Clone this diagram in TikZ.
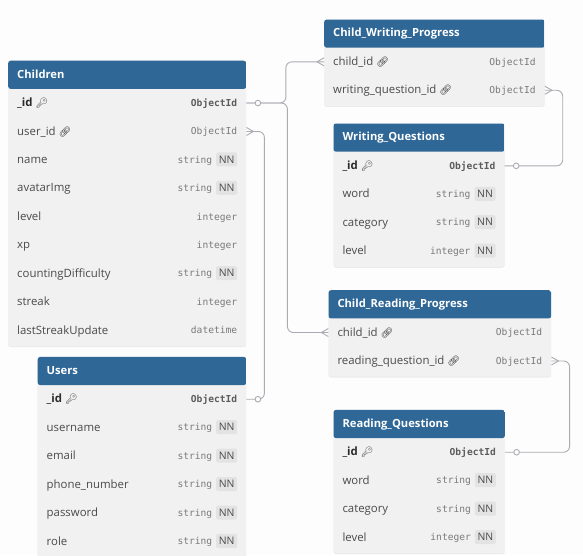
\documentclass[tikz,border=0pt]{standalone}
\usepackage{xcolor}
\usepackage{fontspec}
\setmainfont{Open Sans}
\setmonofont{DejaVu Sans Mono}
\newfontfamily\iconfont{Noto Emoji}
\usetikzlibrary{positioning, arrows.meta, calc, shadows}
\definecolor{pagebg}{HTML}{FDFDFD}
\definecolor{headblue}{HTML}{2F6796}
\definecolor{bodygrey}{HTML}{F1F1F1}
\definecolor{fieldtext}{HTML}{4A4A4A}
\definecolor{typetext}{HTML}{7A7A7A}
\definecolor{keytext}{HTML}{2B2B2B}
\definecolor{keytype}{HTML}{5C5C5C}
\definecolor{badgegrey}{HTML}{E3E3E3}
\definecolor{relgrey}{HTML}{ABABB3}

\tikzset{
  tablebox/.style={rounded corners=2.5pt, fill=bodygrey, inner sep=0pt, anchor=north west,
    drop shadow={shadow xshift=0pt, shadow yshift=-1pt, opacity=.07, fill=black},
    path picture={\fill[headblue] (path picture bounding box.north west) rectangle
      ([yshift=-28.2pt]path picture bounding box.north east);}},
  tabletitle/.style={text=white, inner sep=0pt, anchor=base west, font=\fontsize{11.2}{12}\selectfont\bfseries},
  fieldrow/.style={inner sep=0pt, minimum height=28.45pt},
  fieldname/.style={text=fieldtext, inner sep=0pt, anchor=base west, font=\fontsize{11.4}{12}\selectfont},
  fieldtype/.style={text=typetext, inner sep=0pt, anchor=base east, font=\fontsize{9.6}{12}\selectfont\ttfamily},
  nnbadge/.style={fill=badgegrey, text=fieldtext, rounded corners=1.5pt, inner sep=0pt, minimum width=21pt, minimum height=14pt,
    font=\fontsize{10.4}{12}\selectfont\rmfamily},
  relline/.style={draw=relgrey, line width=.9pt},
  relbend/.style={relline, rounded corners=6pt},
  onemark/.style={circle, draw=relgrey, fill=pagebg, line width=.9pt, inner sep=0pt, minimum size=5.6pt},
}

\newcommand{\keyicon}{{\iconfont\fontsize{10}{10}\selectfont\color{fieldtext}🔑}}
\newcommand{\linkicon}{{\iconfont\fontsize{10}{10}\selectfont\bfseries\color{keytext}🔗}}
\newcommand{\nn}{\hspace{4pt}\tikz[baseline=(badge.base)]\node[nnbadge] (badge) {NN};}
\newcommand{\pk}[1]{\textcolor{keytext}{\textbf{#1}}}
\newcommand{\pktype}[1]{\textcolor{keytype}{\textbf{#1}}}

% id, title, left, top, width, rows, row list
\newcommand{\erdtable}[7]{
  \node[tablebox, minimum width=#5pt, minimum height=28.45pt*(#6+1)+1pt] (#1) at (#3,#4) {};
  \node[tabletitle] (#1-title) at ([xshift=9pt,yshift=-17.5pt]#1.north west) {#2};
  \foreach \fname/\ftype [count=\i] in {#7} {
    \node[fieldrow, minimum width=#5pt] (#1-\i) at ([yshift=-28.3pt-(\i-.5)*28.45pt]#1.north) {};
    \node[fieldname] (#1-\i-name) at ([xshift=9pt,yshift=-3.6pt]#1-\i.west) {\fname};
    \node[fieldtype] (#1-\i-type) at ([xshift=-9pt,yshift=-3.2pt]#1-\i.east) {\ftype};
  }
}
% fan of a many side, opening towards the table
\newcommand{\crowright}[1]{\draw[relline] ([yshift=4pt]#1.east) -- ++(7,4) -- ++(-7,4);}
\newcommand{\crowleft}[1]{\draw[relline] ([yshift=4pt]#1.west) -- ++(-7,4) -- ++(7,4);}

\begin{document}
\begin{tikzpicture}[x=1pt, y=-1pt]
  \useasboundingbox (0,0) rectangle (583,555);
  \fill[pagebg] (0,0) rectangle (583,555);

  \erdtable{children}{Children}{8}{60.5}{238}{9}{
    {\pk{\_id} \keyicon}/\pktype{ObjectId},
    {user\_id \linkicon}/ObjectId,
    name/{string\nn},
    avatarImg/{string\nn},
    level/integer,
    xp/integer,
    countingDifficulty/{string\nn},
    streak/integer,
    lastStreakUpdate/datetime}

  \erdtable{users}{Users}{37.5}{356.7}{208.5}{6}{
    {\pk{\_id} \keyicon}/\pktype{ObjectId},
    username/{string\nn},
    email/{string\nn},
    phone\_number/{string\nn},
    password/{string\nn},
    role/{string\nn}}

  \erdtable{writeprog}{Child\_Writing\_Progress}{324}{19.3}{220.5}{2}{
    {child\_id \linkicon}/ObjectId,
    {writing\_question\_id \linkicon}/ObjectId}

  \erdtable{writeq}{Writing\_Questions}{333.3}{123.3}{171}{4}{
    {\pk{\_id} \keyicon}/\pktype{ObjectId},
    word/{string\nn},
    category/{string\nn},
    level/{integer\nn}}

  \erdtable{readprog}{Child\_Reading\_Progress}{328.3}{290}{222.7}{2}{
    {child\_id \linkicon}/ObjectId,
    {reading\_question\_id \linkicon}/ObjectId}

  \erdtable{readq}{Reading\_Questions}{333.3}{409.7}{171.4}{4}{
    {\pk{\_id} \keyicon}/\pktype{ObjectId},
    word/{string\nn},
    category/{string\nn},
    level/{integer\nn}}

  % relations
  \draw[relbend] (children-1.east) -- ++(39.5,0) |- (writeprog-1.west);
  \draw[relbend] (children-1.east) -- ++(41,0) |- (readprog-1.west);
  \draw[relbend] (users-1.east) -- ++(18,0) |- (children-2.east);
  \draw[relbend] (writeq-1.east) -- ++(58,0) |- (writeprog-2.east);
  \draw[relbend] (readq-1.east) -- ++(64.5,0) |- (readprog-2.east);

  \crowleft{writeprog-1}
  \crowleft{readprog-1}
  \crowright{children-2}
  \crowright{writeprog-2}
  \crowright{readprog-2}

  \node[onemark] (children-one) at ([xshift=11.5pt]children-1.east) {};
  \node[onemark] (users-one) at ([xshift=11.5pt]users-1.east) {};
  \node[onemark] (writeq-one) at ([xshift=11.5pt]writeq-1.east) {};
  \node[onemark] (readq-one) at ([xshift=11.5pt]readq-1.east) {};
\end{tikzpicture}
\end{document}
